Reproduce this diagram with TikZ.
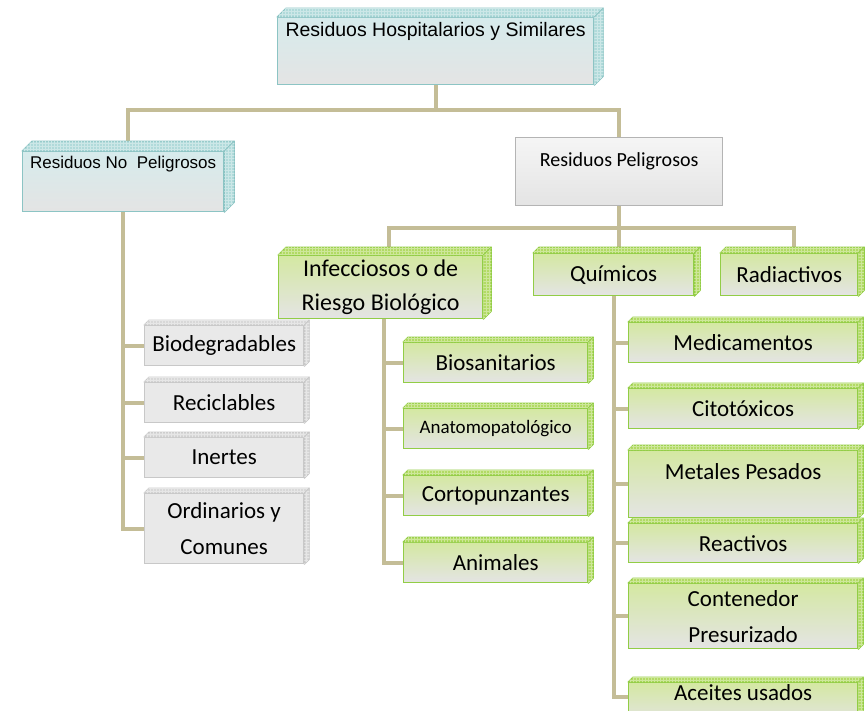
\documentclass[tikz,border=0pt]{standalone}
\usepackage{fontspec}
\setmainfont{Carlito}
\newfontfamily\tahoma{Liberation Sans}
\usetikzlibrary{backgrounds,patterns}

\definecolor{linea}{RGB}{196,189,151}
\definecolor{bordeazul}{RGB}{140,196,196}
\definecolor{azultop}{RGB}{214,235,236}
\definecolor{bandazul}{RGB}{176,218,218}
\definecolor{bordeverde}{RGB}{146,205,70}
\definecolor{verdetop}{RGB}{212,232,162}
\definecolor{bandverde}{RGB}{178,218,100}
\definecolor{bordegris}{RGB}{200,200,200}
\definecolor{grisfill}{RGB}{233,233,233}
\definecolor{bandgris}{RGB}{216,216,216}
\definecolor{grisbot}{RGB}{228,228,228}

\tikzset{
  conn/.style={draw=linea, line width=4pt},
  caja/.style={rectangle, anchor=north west, inner sep=1pt, line width=1.3pt, align=center,
    font=\fontsize{23}{36}\selectfont},
  azul/.style={caja, draw=bordeazul, top color=azultop, bottom color=grisbot},
  verde/.style={caja, draw=bordeverde, top color=verdetop, bottom color=grisbot},
  gris/.style={caja, draw=bordegris, fill=grisfill},
  plana/.style={caja, draw=bordegris!90!black, top color=gray!8, bottom color=grisbot}
}

\begin{document}
\begin{tikzpicture}[x=1pt, y=-1pt]
\useasboundingbox (0,0) rectangle (865,710);

% nivel 1 y 2
\node[azul, minimum width=316pt, minimum height=65pt, text height=18pt, text depth=47pt,
  font=\tahoma\fontsize{19.5}{24}\selectfont] (top) at (277,17) {Residuos Hospitalarios y Similares};
\node[azul, minimum width=201pt, minimum height=58pt, text height=16pt, text depth=42pt,
  font=\tahoma\fontsize{17}{20}\selectfont] (nopel) at (22,151) {Residuos No~~Peligrosos};
\node[plana, minimum width=207pt, minimum height=66pt, text height=28pt, text depth=38pt,
  font=\fontsize{20}{24}\selectfont] (pel) at (515,137) {Residuos Peligrosos};

% peligrosos
\node[verde, minimum width=204pt, minimum height=63pt, font=\fontsize{24}{34}\selectfont]
  (inf) at (278,255) {Infecciosos o de\\Riesgo Biológico};
\node[verde, minimum width=160pt, minimum height=42pt] (qui) at (533,253) {Químicos};
\node[verde, minimum width=137pt, minimum height=42pt] (rad) at (720,253) {Radiactivos};

% no peligrosos
\node[gris, minimum width=159pt, minimum height=40pt] (bio) at (144,325) {Biodegradables};
\node[gris, minimum width=159pt, minimum height=40pt] (rec) at (144,382) {Reciclables};
\node[gris, minimum width=159pt, minimum height=40pt] (ine) at (144,437) {Inertes};
\node[gris, minimum width=159pt, minimum height=70pt] (ord) at (144,493) {Ordinarios y\\Comunes};

% infecciosos
\node[verde, minimum width=184pt, minimum height=40pt] (bios) at (403,342) {Biosanitarios};
\node[verde, minimum width=184pt, minimum height=40pt, font=\fontsize{19}{24}\selectfont]
  (anat) at (403,408) {Anatomopatológico};
\node[verde, minimum width=184pt, minimum height=40pt] (cort) at (403,475) {Cortopunzantes};
\node[verde, minimum width=184pt, minimum height=40pt] (anim) at (403,542) {Animales};

% quimicos
\node[verde, minimum width=229pt, minimum height=40pt] (med) at (628,322) {Medicamentos};
\node[verde, minimum width=229pt, minimum height=40pt] (cit) at (628,388) {Citotóxicos};
\node[verde, minimum width=229pt, minimum height=65pt, text height=28pt, text depth=37pt]
  (met) at (628,450) {Metales Pesados};
\node[verde, minimum width=229pt, minimum height=39pt] (rea) at (628,523) {Reactivos};
\node[verde, minimum width=229pt, minimum height=65pt] (con) at (628,583) {Contenedor\\Presurizado};
\node[verde, minimum width=229pt, minimum height=40pt, text height=17pt, text depth=23pt]
  (ace) at (628,682) {Aceites usados};

% caras laterales
\foreach \n/\c/\b/\d in {top/bandazul/bordeazul/9, nopel/bandazul/bordeazul/10,
    inf/bandverde/bordeverde/8, qui/bandverde/bordeverde/6, rad/bandverde/bordeverde/6,
    bios/bandverde/bordeverde/5, anat/bandverde/bordeverde/5, cort/bandverde/bordeverde/5,
    anim/bandverde/bordeverde/5, med/bandverde/bordeverde/5, cit/bandverde/bordeverde/5,
    met/bandverde/bordeverde/5, rea/bandverde/bordeverde/5, con/bandverde/bordeverde/5,
    ace/bandverde/bordeverde/5, bio/bandgris/bordegris/5, rec/bandgris/bordegris/5,
    ine/bandgris/bordegris/5, ord/bandgris/bordegris/5}{
  \filldraw[fill=\c, draw=\b, line width=1pt, line join=round,
    postaction={pattern=grid, pattern color=white!35!\c}]
    (\n.north west) -- ([shift={(\d,-\d)}]\n.north west) -- ([shift={(\d,-\d)}]\n.north east)
    -- ([shift={(\d,-\d)}]\n.south east) -- (\n.south east) -- (\n.north east) -- cycle;
  \draw[\b, line width=0.8pt] (\n.north east) -- ([shift={(\d,-\d)}]\n.north east);
}

% conectores
\begin{scope}[on background layer]
\draw[conn] (top.south) -- ++(0,25) -| ([xshift=5pt]nopel.north);
\draw[conn] (top.south) -- ++(0,25) -| (pel.north);
\draw[conn] (pel.south) -- ++(0,22) -| ([xshift=8pt]inf.north);
\draw[conn] (pel.south) -- ++(0,22) -| ([xshift=5pt]qui.north);
\draw[conn] (pel.south) -- ++(0,22) -| ([xshift=5pt]rad.north);
\foreach \h in {bio,rec,ine,ord}
  \draw[conn] (nopel.south) |- (\h.west);
\foreach \h in {bios,anat,cort,anim}
  \draw[conn] ([xshift=3pt]inf.south) |- (\h.west);
\foreach \h in {med,cit,met,rea,con}
  \draw[conn] (qui.south) |- (\h.west);
\draw[conn] (qui.south) |- ([yshift=7pt]ace.west);
\end{scope}
\end{tikzpicture}
\end{document}
